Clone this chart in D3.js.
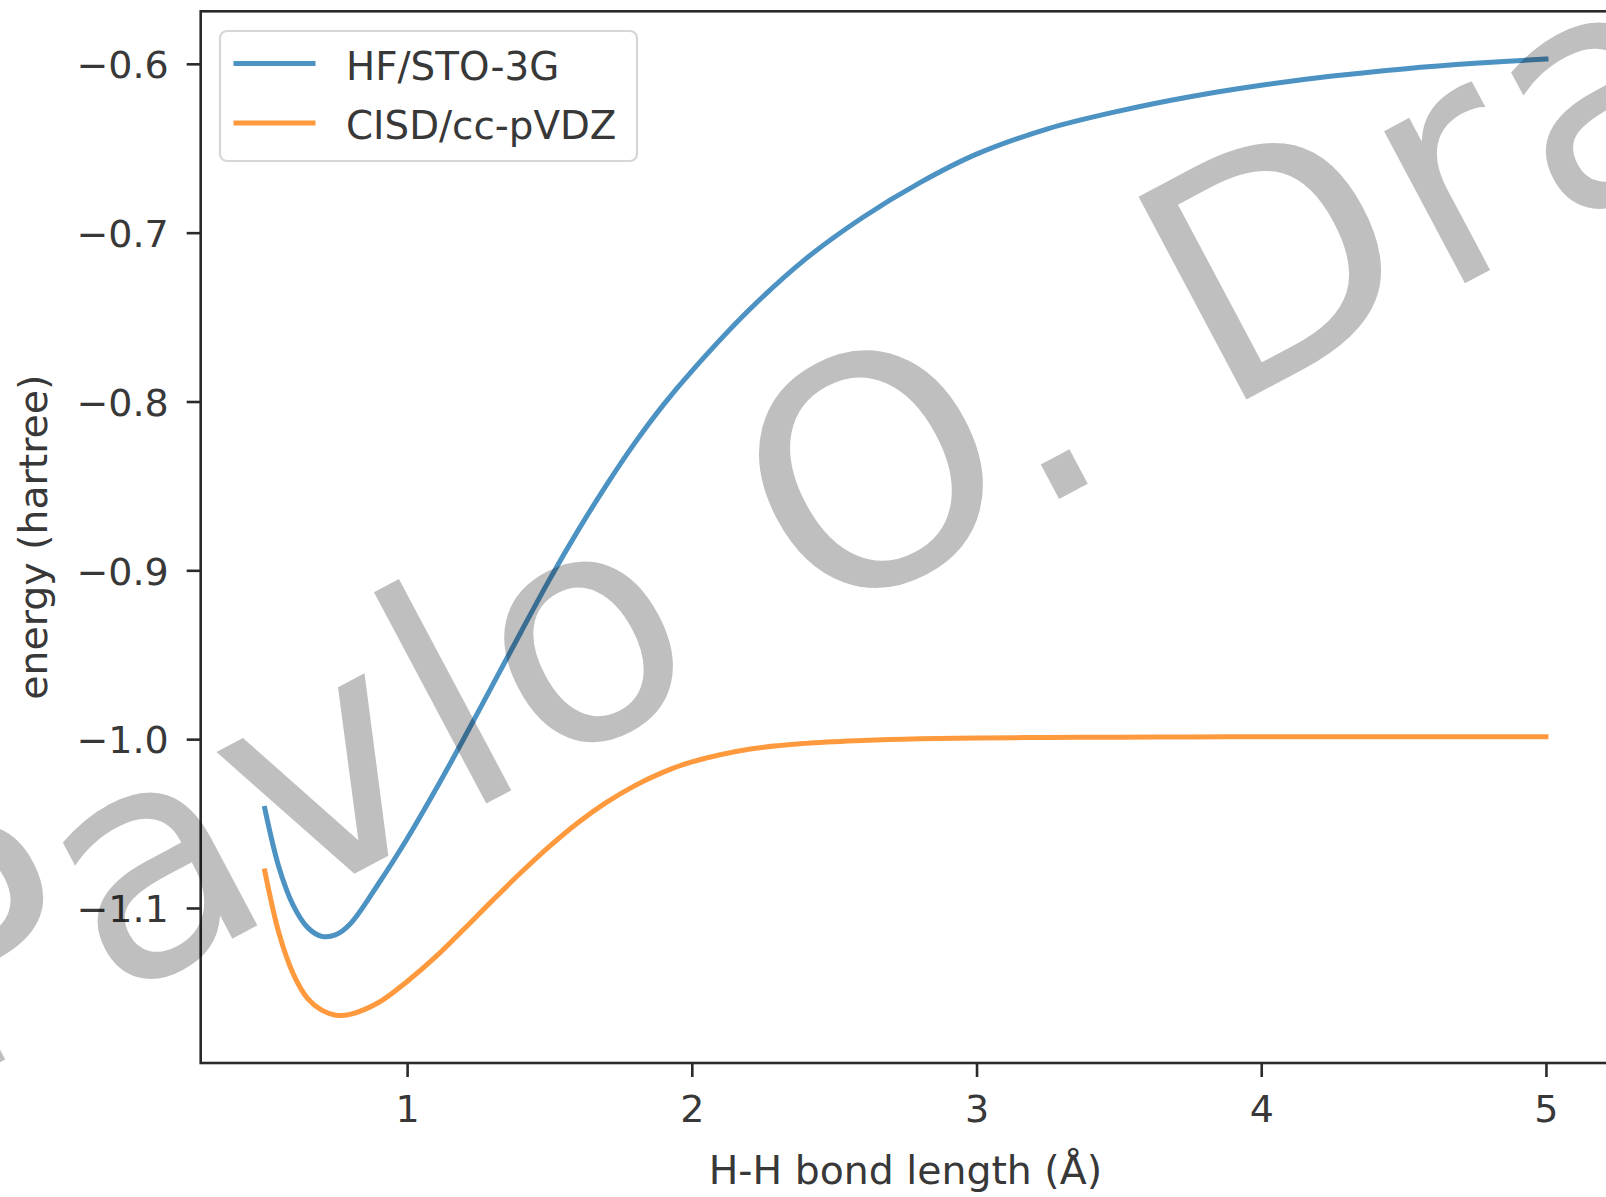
<!DOCTYPE html>
<html>
<head>
<meta charset="utf-8">
<script src="https://cdn.jsdelivr.net/npm/d3@7"></script>
<style>
  html, body { margin: 0; padding: 0; background: #fff; }
  svg { display: block; }
  text { font-family: "DejaVu Sans", sans-serif; }
</style>
</head>
<body>
<svg id="chart" width="1606" height="1197"></svg>
<script>
// ---- data ----
const bondLength = [0.50, 0.55, 0.60, 0.65, 0.70, 0.75, 0.80, 0.90, 1.00, 1.10, 1.20, 1.30, 1.40, 1.50,
  1.60, 1.70, 1.80, 1.90, 2.00, 2.20, 2.40, 2.60, 2.80, 3.00, 3.25, 3.50, 3.75, 4.00, 4.25, 4.50, 4.75, 5.00];
const hfSto3g = [-1.041, -1.076, -1.0985, -1.1115, -1.1168, -1.1158, -1.1095, -1.0855, -1.0590, -1.0300,
  -0.9995, -0.9680, -0.9365, -0.9055, -0.8765, -0.8495, -0.8245, -0.8020, -0.7820, -0.7460, -0.7155,
  -0.6910, -0.6705, -0.6535, -0.6385, -0.6280, -0.6195, -0.6127, -0.6072, -0.6030, -0.5997, -0.5972];
const cisdCcPvdz = [-1.078, -1.115, -1.139, -1.1535, -1.1605, -1.1635, -1.1630, -1.1560, -1.1435, -1.1290,
  -1.1125, -1.0955, -1.0790, -1.0635, -1.0495, -1.0375, -1.0275, -1.0195, -1.0135, -1.0060, -1.0025,
  -1.0008, -0.9998, -0.9993, -0.9990, -0.9988, -0.9987, -0.9986, -0.9986, -0.9986, -0.9986, -0.9986];
const seriesNames = ["HF/STO-3G", "CISD/cc-pVDZ"];
const seriesColors = ["#1f77b4", "#ff7f0e"];
const xTicks = [1, 2, 3, 4, 5];
const yTicks = [-1.1, -1.0, -0.9, -0.8, -0.7, -0.6];
const xLabel = "H-H bond length (Å)";
const yLabel = "energy (hartree)";
const watermark = "Pavlo O. Dral";

// ---- layout ----
const W = 1606, H = 1197;
const plot = { left: 200.7, right: 1610, top: 11.3, bottom: 1063 };
const axisColor = "#2a2a2a", textColor = "#383838";

const svg = d3.select("#chart");
svg.append("rect").attr("width", W).attr("height", H).attr("fill", "#fff");

const series = [hfSto3g, cisdCcPvdz].map((vals, i) => ({
  name: seriesNames[i], color: seriesColors[i],
  points: bondLength.map((x, j) => [x, vals[j]])
}));

// matplotlib-style 5% margins
const xExt = d3.extent(bondLength);
const yExt = d3.extent(hfSto3g.concat(cisdCcPvdz));
const xPad = (xExt[1] - xExt[0]) * 0.05, yPad = (yExt[1] - yExt[0]) * 0.05;

const x = d3.scaleLinear().domain([xExt[0] - xPad, xExt[1] + xPad]).range([plot.left, plot.right]);
const y = d3.scaleLinear().domain([yExt[0] - yPad, yExt[1] + yPad]).range([plot.bottom, plot.top]);

svg.append("clipPath").attr("id", "clip").append("rect")
  .attr("x", plot.left).attr("y", plot.top)
  .attr("width", plot.right - plot.left).attr("height", plot.bottom - plot.top);

const line = d3.line().x(d => x(d[0])).y(d => y(d[1])).curve(d3.curveCatmullRom.alpha(0.5));

svg.append("g").attr("clip-path", "url(#clip)")
  .selectAll("path").data(series).join("path")
  .attr("d", d => line(d.points))
  .attr("fill", "none")
  .attr("stroke", d => d.color)
  .attr("stroke-opacity", 0.8)
  .attr("stroke-width", 5)
  .attr("stroke-linejoin", "round")
  .attr("stroke-linecap", "square");

// axes
const xAxis = d3.axisBottom(x).tickValues(xTicks).tickFormat(d3.format("d")).tickSize(14).tickSizeOuter(0).tickPadding(18);
const yAxis = d3.axisLeft(y).tickValues(yTicks).tickFormat(d3.format(".1f")).tickSize(14).tickSizeOuter(0).tickPadding(18);

const gx = svg.append("g").attr("transform", `translate(0,${plot.bottom})`).call(xAxis);
const gy = svg.append("g").attr("transform", `translate(${plot.left},0)`).call(yAxis);
[gx, gy].forEach(g => {
  g.select(".domain").remove();
  g.selectAll(".tick line").attr("stroke", axisColor).attr("stroke-width", 2.6);
  g.selectAll(".tick text").attr("fill", textColor).attr("font-size", 38)
    .attr("font-family", "DejaVu Sans");
});
gx.selectAll(".tick text").attr("dy", "0.71em");
gy.selectAll(".tick text").attr("dy", "0.36em");

// spines
svg.append("rect")
  .attr("x", plot.left).attr("y", plot.top)
  .attr("width", plot.right - plot.left).attr("height", plot.bottom - plot.top)
  .attr("fill", "none").attr("stroke", axisColor).attr("stroke-width", 2.6);

// axis labels
svg.append("text").attr("x", (plot.left + plot.right) / 2).attr("y", 1184)
  .attr("text-anchor", "middle").attr("fill", textColor).attr("font-size", 39.4).text(xLabel);
svg.append("text").attr("transform", `translate(47,${(plot.top + plot.bottom) / 2}) rotate(-90)`)
  .attr("text-anchor", "middle").attr("fill", textColor).attr("font-size", 39.4).text(yLabel);

// legend
const lg = svg.append("g");
lg.append("rect").attr("x", 220).attr("y", 31).attr("width", 417).attr("height", 130)
  .attr("rx", 7).attr("fill", "#fff").attr("fill-opacity", 0.8)
  .attr("stroke", "#d6d6d6").attr("stroke-width", 2.2);
series.forEach((s, i) => {
  const ly = 63.5 + i * 59.4;
  lg.append("line").attr("x1", 233.5).attr("x2", 315.5).attr("y1", ly).attr("y2", ly)
    .attr("stroke", s.color).attr("stroke-opacity", 0.8).attr("stroke-width", 5);
  lg.append("text").attr("x", 346).attr("y", ly + 16.5).attr("fill", textColor)
    .attr("font-size", 38.8).text(s.name);
});

// watermark
svg.append("text")
  .attr("transform", "translate(-49.5,1088.5) rotate(-28)")
  .attr("font-size", 315).attr("letter-spacing", 7.3)
  .attr("fill", "#000").attr("fill-opacity", 0.25)
  .text(watermark);
</script>
</body>
</html>
